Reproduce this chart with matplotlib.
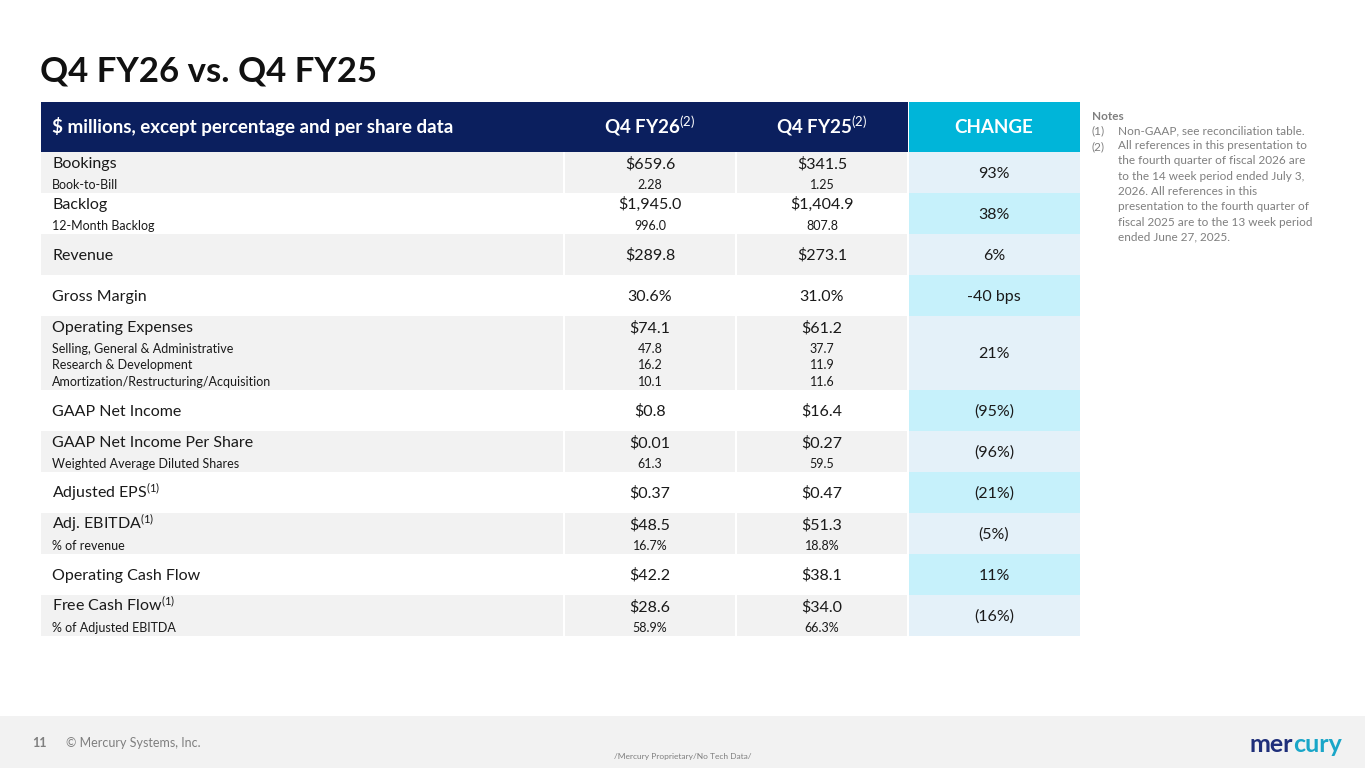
import matplotlib
matplotlib.use("Agg")
import matplotlib.pyplot as plt
from matplotlib.patches import Rectangle

plt.rcParams['font.family'] = ['Lato', 'DejaVu Sans']
plt.rcParams['mathtext.fontset'] = 'custom'
plt.rcParams['mathtext.rm'] = 'Lato'
plt.rcParams['mathtext.it'] = 'Lato'

title = "Q4 FY26 vs. Q4 FY25"
headers = ["$ millions, except percentage and per share data", r"Q4 FY26$^{(2)}$", r"Q4 FY25$^{(2)}$", "CHANGE"]
labels = ["Bookings", "Backlog", "Revenue", "Gross Margin", "Operating Expenses", "GAAP Net Income",
          "GAAP Net Income Per Share", r"Adjusted EPS$^{(1)}$", r"Adj. EBITDA$^{(1)}$", "Operating Cash Flow",
          r"Free Cash Flow$^{(1)}$"]
fy26 = ["$659.6", "$1,945.0", "$289.8", "30.6%", "$74.1", "$0.8", "$0.01", "$0.37", "$48.5", "$42.2", "$28.6"]
fy25 = ["$341.5", "$1,404.9", "$273.1", "31.0%", "$61.2", "$16.4", "$0.27", "$0.47", "$51.3", "$38.1", "$34.0"]
change = ["93%", "38%", "6%", "-40 bps", "21%", "(95%)", "(96%)", "(21%)", "(5%)", "11%", "(16%)"]
sub_labels = [["Book-to-Bill"], ["12-Month Backlog"], [], [],
              ["Selling, General & Administrative", "Research & Development", "Amortization/Restructuring/Acquisition"],
              [], ["Weighted Average Diluted Shares"], [], ["% of revenue"], [], ["% of Adjusted EBITDA"]]
sub26 = [["2.28"], ["996.0"], [], [], ["47.8", "16.2", "10.1"], [], ["61.3"], [], ["16.7%"], [], ["58.9%"]]
sub25 = [["1.25"], ["807.8"], [], [], ["37.7", "11.9", "11.6"], [], ["59.5"], [], ["18.8%"], [], ["66.3%"]]
notes = ["(1)", "Non-GAAP, see reconciliation table.", "(2)",
         "All references in this presentation to\nthe fourth quarter of fiscal 2026 are\nto the 14 week period ended July 3,\n2026. All references in this\npresentation to the fourth quarter of\nfiscal 2025 are to the 13 week period\nended June 27, 2025."]

fig = plt.figure(figsize=(13.65, 7.68), dpi=100)
ax = fig.add_axes([0, 0, 1, 1])
ax.set_xlim(0, 1365); ax.set_ylim(768, 0); ax.axis('off')

NAVY = '#0b1f5e'; CYAN = '#00b5d9'; GRAY = '#f2f2f2'
CH_A = '#e4f1f9'; CH_B = '#c6f1fb'; TXT = '#1a1a1a'
MS = 11.5; SS = 9

def t(x, yc, s, size, ha='left', **kw):
    ax.text(x, yc + size * 0.45, s, fontsize=size, ha=ha, va='baseline', **kw)

ax.text(40, 72, title, fontsize=25, fontweight='bold', color='#111111', va='center')

cols = [(41, 563), (565, 735), (737, 907), (909, 1080)]
ax.add_patch(Rectangle((41, 102), 867, 50, color=NAVY, lw=0))
ax.add_patch(Rectangle((909, 102), 171, 50, color=CYAN, lw=0))
t(52, 127, headers[0], 13.5, color='white', fontweight='bold')
t(650, 127, headers[1], 13.5, ha='center', color='white', fontweight='bold')
t(822, 127, headers[2], 13.5, ha='center', color='white', fontweight='bold')
t(994, 127, headers[3], 13.5, ha='center', color='white', fontweight='bold')

heights = [41, 41, 41, 41, 74, 41, 41, 41, 41, 41, 41]
y = 152
for i, lab in enumerate(labels):
    h = heights[i]
    shaded = (i % 2 == 0)
    if shaded:
        for (x0, x1) in cols[:3]:
            ax.add_patch(Rectangle((x0, y), x1 - x0, h, color=GRAY, lw=0))
    ax.add_patch(Rectangle((909, y), 171, h, color=CH_A if shaded else CH_B, lw=0))
    subs = sub_labels[i]
    cy = y + 11 if subs else y + h / 2
    t(52, cy, lab, MS, color=TXT)
    t(650, cy, fy26[i], MS, ha='center', color=TXT)
    t(822, cy, fy25[i], MS, ha='center', color=TXT)
    for k, s in enumerate(subs):
        yy = y + 33 + k * 16.3
        t(52, yy, s, SS, color=TXT)
        t(650, yy, sub26[i][k], SS, ha='center', color=TXT)
        t(822, yy, sub25[i][k], SS, ha='center', color=TXT)
    t(994, y + h / 2, change[i], MS, ha='center', color=TXT)
    y += h

NC = '#7f7f7f'
ax.text(1092, 116, "Notes", fontsize=8.5, color=NC, fontweight='bold', va='center')
ax.text(1092, 131, notes[0], fontsize=8.5, color=NC, va='center')
ax.text(1118, 131, notes[1], fontsize=8.5, color=NC, va='center')
ax.text(1092, 147, notes[2], fontsize=8.5, color=NC, va='center')
ax.text(1118, 140, notes[3], fontsize=8.5, color=NC, va='top', linespacing=1.48)

ax.add_patch(Rectangle((0, 716), 1365, 52, color='#f2f2f2', lw=0))
ax.text(32, 743, "11", fontsize=9, color='#7f7f7f', va='center', fontweight='bold')
ax.text(66, 743, "© Mercury Systems, Inc.", fontsize=9, color='#7f7f7f', va='center')
ax.text(683, 756, "/Mercury Proprietary/No Tech Data/", fontsize=6, color='#7f7f7f', va='center', ha='center')
ax.text(1293, 744, "mer", fontsize=18, color='#1f2f7a', va='center', ha='right', fontweight='bold')
ax.text(1293, 744, "cury", fontsize=18, color='#1aa6c8', va='center', ha='left', fontweight='bold')

fig.savefig("out.png", dpi=100)
